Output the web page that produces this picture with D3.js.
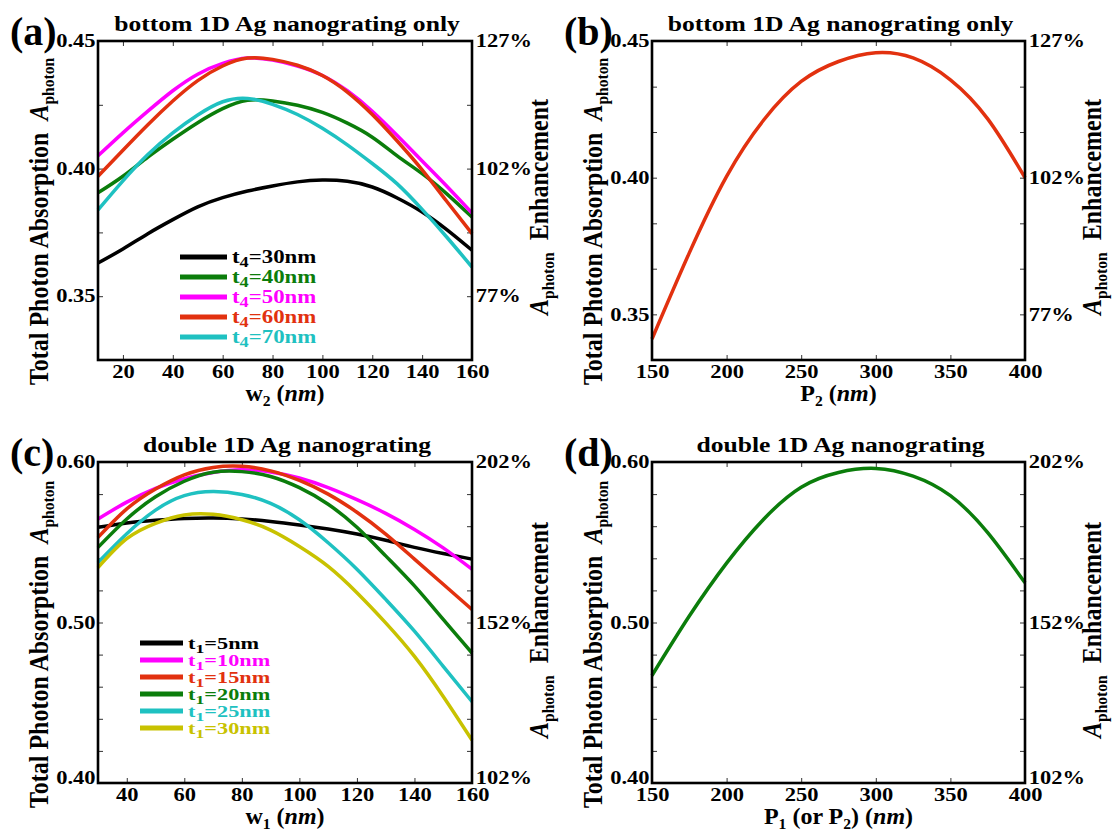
<!DOCTYPE html>
<html>
<head>
<meta charset="utf-8">
<script src="https://cdnjs.cloudflare.com/ajax/libs/d3/7.8.5/d3.min.js"></script>
<style>
  body { margin: 0; background: #fff; }
  svg text { font-family: "Liberation Serif", "Times New Roman", serif; font-weight: bold; white-space: pre; }
</style>
</head>
<body>
<div id="chart"></div>
<script>
// ---------- data ----------

// (a) absorption vs w2 for several t4
var w2Values = [10, 20, 30, 40, 50, 60, 70, 80, 90, 100, 110, 120, 130, 140, 150, 160];
var t4Labels = ["30nm", "40nm", "50nm", "60nm", "70nm"];
var t4_30 = [0.3630, 0.3685, 0.3745, 0.3800, 0.3850, 0.3886, 0.3912, 0.3932, 0.3948, 0.3955, 0.3950, 0.3928, 0.3885, 0.3830, 0.3760, 0.3680];
var t4_40 = [0.3905, 0.3970, 0.4045, 0.4115, 0.4180, 0.4235, 0.4268, 0.4265, 0.4248, 0.4220, 0.4178, 0.4123, 0.4050, 0.3980, 0.3900, 0.3810];
var t4_50 = [0.4050, 0.4140, 0.4225, 0.4305, 0.4370, 0.4412, 0.4433, 0.4425, 0.4402, 0.4365, 0.4305, 0.4225, 0.4130, 0.4030, 0.3930, 0.3826];
var t4_60 = [0.3970, 0.4072, 0.4172, 0.4265, 0.4345, 0.4402, 0.4433, 0.4428, 0.4405, 0.4365, 0.4300, 0.4212, 0.4108, 0.3995, 0.3870, 0.3745];
var t4_70 = [0.3838, 0.3952, 0.4055, 0.4140, 0.4210, 0.4262, 0.4275, 0.4252, 0.4212, 0.4158, 0.4093, 0.4020, 0.3940, 0.3840, 0.3730, 0.3614];

// (b) absorption vs P2
var p2Values = [150, 175, 200, 225, 250, 275, 300, 325, 350, 375, 400];
var p2Absorption = [0.3410, 0.3725, 0.4005, 0.4212, 0.4352, 0.4425, 0.4457, 0.4438, 0.4358, 0.4215, 0.4000];

// (c) absorption vs w1 for several t1
var w1Values = [30, 40, 50, 60, 70, 80, 90, 100, 110, 120, 130, 140, 150, 160];
var t1Labels = ["5nm", "10nm", "15nm", "20nm", "25nm", "30nm"];
var t1_5 = [0.5593, 0.5620, 0.5637, 0.5648, 0.5651, 0.5645, 0.5630, 0.5608, 0.5582, 0.5551, 0.5512, 0.5468, 0.5430, 0.5395];
var t1_10 = [0.5645, 0.5750, 0.5835, 0.5896, 0.5935, 0.5952, 0.5938, 0.5900, 0.5840, 0.5765, 0.5680, 0.5580, 0.5465, 0.5332];
var t1_15 = [0.5530, 0.5708, 0.5832, 0.5920, 0.5966, 0.5973, 0.5945, 0.5885, 0.5800, 0.5687, 0.5551, 0.5395, 0.5238, 0.5081];
var t1_20 = [0.5468, 0.5645, 0.5783, 0.5880, 0.5936, 0.5940, 0.5910, 0.5840, 0.5737, 0.5593, 0.5415, 0.5228, 0.5019, 0.4810];
var t1_25 = [0.5374, 0.5553, 0.5700, 0.5790, 0.5816, 0.5798, 0.5742, 0.5640, 0.5497, 0.5332, 0.5144, 0.4946, 0.4727, 0.4507];
var t1_30 = [0.5342, 0.5522, 0.5618, 0.5670, 0.5674, 0.5640, 0.5576, 0.5474, 0.5350, 0.5186, 0.4998, 0.4789, 0.4539, 0.4267];

// (d) absorption vs P1 (or P2)
var p1Values = [150, 175, 200, 225, 250, 275, 300, 325, 350, 375, 400];
var p1Absorption = [0.4670, 0.5040, 0.5370, 0.5645, 0.5843, 0.5935, 0.5960, 0.5912, 0.5790, 0.5560, 0.5247];

// tick labels
var topXTicksA = [20, 40, 60, 80, 100, 120, 140, 160];
var topXTicksB = [150, 200, 250, 300, 350, 400];
var bottomXTicksC = [40, 60, 80, 100, 120, 140, 160];
var topYTicksA = [0.325, 0.35, 0.375, 0.40, 0.425, 0.45];
var topYTicksB = [0.3333, 0.35, 0.3667, 0.3833, 0.40, 0.4167, 0.4333, 0.45];
var bottomYTicks = [0.40, 0.42, 0.44, 0.46, 0.48, 0.50, 0.52, 0.54, 0.56, 0.58, 0.60];
var topYLabelValues = [0.35, 0.40, 0.45];
var topYLeftLabels = ["0.35", "0.40", "0.45"];
var topYRightLabels = ["77%", "102%", "127%"];
var bottomYLabelValues = [0.40, 0.50, 0.60];
var bottomYLeftLabels = ["0.40", "0.50", "0.60"];
var bottomYRightLabels = ["102%", "152%", "202%"];

// colours
var black = "#000000", green = "#0b7d0b", magenta = "#ff00ff", red = "#e2310f", cyan = "#1fc1c1", olive = "#c8c200";

// ---------- layout ----------
var svgWidth = 1112;
var svgHeight = 834;
var serifStretch = 1.22;

var svg = d3.select("#chart")
  .append("svg")
  .attr("width", svgWidth)
  .attr("height", svgHeight);

svg.append("rect").attr("width", svgWidth).attr("height", svgHeight).attr("fill", "#fff");

// text with optional sub-scripts / italics; parts = [{t, sub, it}]
function addText(parent, x, y, parts, style) {
  var tr = `translate(${x},${y})`;
  if (style.sx) tr += ` scale(${style.sx},1)`;
  if (style.rotate) tr += ` rotate(${style.rotate})`;
  var t = parent.append("text")
    .attr("transform", tr)
    .attr("font-size", style.size)
    .attr("text-anchor", style.anchor || "start")
    .attr("fill", style.color || "#000");
  var shift = 0;
  var subScale = style.subScale || 0.65;
  parts.forEach(function(part) {
    var target = part.sub ? style.size * 0.22 : 0;
    var span = t.append("tspan")
      .attr("dy", target - shift)
      .text(part.t);
    shift = target;
    if (part.sub) span.attr("font-size", style.size * subScale);
    if (part.it) span.attr("font-style", "italic");
  });
  return t;
}

function findLabel(values, labels) {
  return function(d) {
    var i = values.findIndex(v => Math.abs(v - d) < 1e-6);
    return i < 0 ? "" : labels[i];
  };
}

function styleAxis(g) {
  g.select(".domain").remove();
  g.attr("font-size", 18)
    .attr("font-family", "Liberation Serif, serif")
    .attr("font-weight", "bold");
  g.selectAll("line").attr("stroke", "#333").attr("stroke-width", 1);
  g.selectAll("text").attr("transform", "scale(1.25,1)");
}

function drawPanel(p) {
  var box = p.box;
  var g = svg.append("g");

  var x = d3.scaleLinear().domain(p.xDomain).range([box.left, box.right]);
  var y = d3.scaleLinear().domain(p.yDomain).range([box.bottom, box.top]);

  // inward ticks on all four sides
  g.append("g")
    .attr("transform", `translate(0,${box.bottom})`)
    .call(d3.axisBottom(x).tickValues(p.xTicks).tickSizeInner(-5).tickSizeOuter(0).tickPadding(5).tickFormat(d3.format("d")))
    .call(styleAxis);

  g.append("g")
    .attr("transform", `translate(0,${box.top})`)
    .call(d3.axisTop(x).tickValues(p.xTicks).tickSizeInner(-5).tickSizeOuter(0).tickFormat(""))
    .call(styleAxis);

  var leftAxis = g.append("g")
    .attr("transform", `translate(${box.left},0)`)
    .call(d3.axisLeft(y).tickValues(p.yTicks).tickSizeInner(-5).tickSizeOuter(0).tickPadding(2)
      .tickFormat(findLabel(p.yLabelValues, p.yLeftLabels)))
    .call(styleAxis);

  var rightAxis = g.append("g")
    .attr("transform", `translate(${box.right},0)`)
    .call(d3.axisRight(y).tickValues(p.yTicks).tickSizeInner(-5).tickSizeOuter(0).tickPadding(3)
      .tickFormat(findLabel(p.yLabelValues, p.yRightLabels)))
    .call(styleAxis);

  // labels sitting on the bottom corner are lifted a little, as in the original
  [leftAxis, rightAxis].forEach(function(ax) {
    ax.selectAll(".tick text")
      .filter(d => Math.abs(d - p.yDomain[0]) < 1e-6)
      .attr("dy", "0.02em");
  });

  // curves
  var line = d3.line()
    .x(d => x(d[0]))
    .y(d => y(d[1]))
    .curve(d3.curveNatural);

  p.series.forEach(function(s) {
    g.append("path")
      .datum(p.xValues.map((v, i) => [v, s.values[i]]))
      .attr("fill", "none")
      .attr("stroke", s.color)
      .attr("stroke-width", 3.5)
      .attr("d", line);
  });

  // plot frame
  g.append("rect")
    .attr("x", box.left)
    .attr("y", box.top)
    .attr("width", box.right - box.left)
    .attr("height", box.bottom - box.top)
    .attr("fill", "none")
    .attr("stroke", "#000")
    .attr("stroke-width", 2.6);

  // panel letter and title
  addText(g, box.left - 88, box.top + 4, [{t: p.letter}], {size: 40});
  addText(g, (box.left + box.right) / 2 + 2, box.top - 10, [{t: p.title}],
    {size: 21, sx: serifStretch, anchor: "middle"});

  // axis titles
  addText(g, (box.left + box.right) / 2, box.bottom + 41, p.xTitle, {size: 24, anchor: "middle"});
  addText(g, box.left - 50, box.bottom + 25,
    [{t: "Total Photon Absorption  "}, {t: "A", it: true}, {t: "photon", sub: true}],
    {size: 24, rotate: -90, sx: 1.1});
  addText(g, box.right + 76, box.bottom - 45,
    [{t: "A", it: true}, {t: "photon", sub: true}, {t: "  Enhancement"}],
    {size: 24, rotate: -90, sx: 1.1});

  // legend
  if (p.legend) {
    var lg = p.legend;
    p.series.forEach(function(s, i) {
      var ly = lg.y + i * lg.step;
      g.append("line")
        .attr("x1", lg.x1).attr("x2", lg.x2)
        .attr("y1", ly).attr("y2", ly)
        .attr("stroke", s.color)
        .attr("stroke-width", 5);
      addText(g, lg.x2 + 5, ly + 6,
        [{t: "t"}, {t: lg.sub, sub: true}, {t: "=" + s.label}],
        {size: lg.size, sx: lg.sx, color: s.color, subScale: 0.8});
    });
  }
}

// (a)
drawPanel({
  box: {left: 98, top: 41, right: 472, bottom: 360},
  letter: "(a)",
  title: "bottom 1D Ag nanograting only",
  xDomain: [10, 160], yDomain: [0.325, 0.45],
  xTicks: topXTicksA, yTicks: topYTicksA,
  yLabelValues: topYLabelValues, yLeftLabels: topYLeftLabels, yRightLabels: topYRightLabels,
  xTitle: [{t: "w"}, {t: "2", sub: true}, {t: " ("}, {t: "nm", it: true}, {t: ")"}],
  xValues: w2Values,
  series: [
    {label: t4Labels[0], values: t4_30, color: black},
    {label: t4Labels[1], values: t4_40, color: green},
    {label: t4Labels[2], values: t4_50, color: magenta},
    {label: t4Labels[3], values: t4_60, color: red},
    {label: t4Labels[4], values: t4_70, color: cyan}
  ],
  legend: {x1: 180, x2: 227, y: 257, step: 20, sub: "4", size: 18, sx: 1.27}
});

// (b)
drawPanel({
  box: {left: 652, top: 41, right: 1025, bottom: 360},
  letter: "(b)",
  title: "bottom 1D Ag nanograting only",
  xDomain: [150, 400], yDomain: [0.3333, 0.45],
  xTicks: topXTicksB, yTicks: topYTicksB,
  yLabelValues: topYLabelValues, yLeftLabels: topYLeftLabels, yRightLabels: topYRightLabels,
  xTitle: [{t: "P"}, {t: "2", sub: true}, {t: " ("}, {t: "nm", it: true}, {t: ")"}],
  xValues: p2Values,
  series: [{values: p2Absorption, color: red}]
});

// (c)
drawPanel({
  box: {left: 98, top: 462, right: 472, bottom: 783},
  letter: "(c)",
  title: "double 1D Ag nanograting",
  xDomain: [30, 160], yDomain: [0.40, 0.60],
  xTicks: bottomXTicksC, yTicks: bottomYTicks,
  yLabelValues: bottomYLabelValues, yLeftLabels: bottomYLeftLabels, yRightLabels: bottomYRightLabels,
  xTitle: [{t: "w"}, {t: "1", sub: true}, {t: " ("}, {t: "nm", it: true}, {t: ")"}],
  xValues: w1Values,
  series: [
    {label: t1Labels[0], values: t1_5, color: black},
    {label: t1Labels[1], values: t1_10, color: magenta},
    {label: t1Labels[2], values: t1_15, color: red},
    {label: t1Labels[3], values: t1_20, color: green},
    {label: t1Labels[4], values: t1_25, color: cyan},
    {label: t1Labels[5], values: t1_30, color: olive}
  ],
  legend: {x1: 140, x2: 183, y: 643, step: 17, sub: "1", size: 16.5, sx: 1.35}
});

// (d)
drawPanel({
  box: {left: 652, top: 462, right: 1025, bottom: 783},
  letter: "(d)",
  title: "double 1D Ag nanograting",
  xDomain: [150, 400], yDomain: [0.40, 0.60],
  xTicks: topXTicksB, yTicks: bottomYTicks,
  yLabelValues: bottomYLabelValues, yLeftLabels: bottomYLeftLabels, yRightLabels: bottomYRightLabels,
  xTitle: [{t: "P"}, {t: "1", sub: true}, {t: " (or P"}, {t: "2", sub: true}, {t: ") ("}, {t: "nm", it: true}, {t: ")"}],
  xValues: p1Values,
  series: [{values: p1Absorption, color: green}]
});
</script>
</body>
</html>
